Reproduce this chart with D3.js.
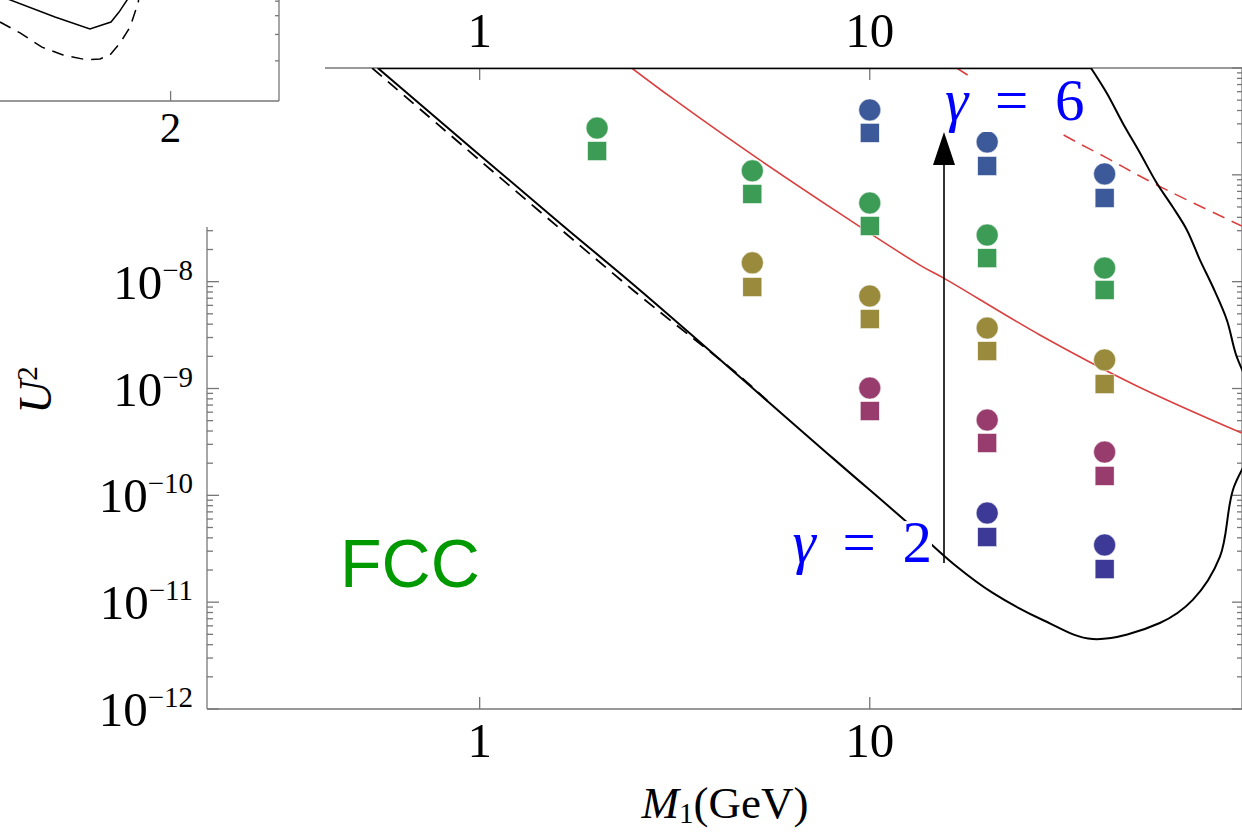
<!DOCTYPE html>
<html>
<head>
<meta charset="utf-8">
<title>FCC sensitivity: U2 vs M1</title>
<script src="https://cdn.jsdelivr.net/npm/d3@7"></script>
<style>
  body { margin: 0; background: #fff; }
  svg { display: block; }
</style>
</head>
<body>
<script>
// ---- data ----
// benchmark masses (GeV) and marker colours (one row per colour)
var masses = [2, 5, 10, 20, 40];
var pointColors = ["#3c5a99", "#3c9b55", "#9a8a3c", "#983c6e", "#3c3a96"];
var circleU2 = [
  [null, null, 4.05e-7, 2.03e-7, 1.02e-7],
  [2.74e-7, 1.09e-7, 5.45e-8, 2.73e-8, 1.34e-8],
  [null, 1.50e-8, 7.34e-9, 3.68e-9, 1.85e-9],
  [null, null, 1.01e-9, 5.07e-10, 2.54e-10],
  [null, null, null, 6.83e-11, 3.43e-11]
];
var squareU2 = [
  [null, null, 2.47e-7, 1.21e-7, 6.07e-8],
  [1.67e-7, 6.62e-8, 3.32e-8, 1.66e-8, 8.36e-9],
  [null, 8.91e-9, 4.47e-9, 2.24e-9, 1.10e-9],
  [null, null, 6.15e-10, 3.09e-10, 1.52e-10],
  [null, null, null, 4.07e-11, 2.04e-11]
];

// black sensitivity contour: lower branch, round the right edge, back up the upper branch
var contourSolid = [
  [0.548, 1e-6], [1.604, 3.54e-8], [2.572, 8.36e-9], [8.04, 2.23e-10],
  [12.52, 5.51e-11], [16.52, 2.23e-11], [20.67, 1.22e-11], [27.77, 6.81e-12],
  [37.31, 4.52e-12], [55.4, 6.38e-12], [67.3, 1.05e-11], [78.97, 2.65e-11],
  [85.3, 1.12e-10], [100, 4.55e-10], [86.6, 2.15e-9], [82.3, 4.38e-9],
  [75.8, 8.91e-9], [70.2, 1.60e-8], [65.0, 3.05e-8], [59.8, 5.00e-8],
  [54.4, 8.39e-8], [49.3, 1.60e-7], [44.5, 3.06e-7], [40.5, 5.83e-7], [36.9, 1e-6]
];
var contourDashed = [
  [0.530, 1e-6], [2.47, 8.36e-9], [4.6, 1.35e-9], [5.5, 7.5e-10]
];
var redSolid = [
  [2.453, 1e-6], [3.162, 5.02e-7], [5.224, 1.38e-7], [13.44, 1.43e-8],
  [15.48, 1.08e-8], [27.29, 3.17e-9], [47.8, 1.08e-9], [89.9, 3.83e-10]
];
var redDashed = [
  [16.71, 1e-6], [29.8, 2.63e-7], [40.5, 1.44e-7], [54.4, 8.04e-8], [89.9, 3.32e-8]
];
// gamma arrow: mass and U2 range
var arrowM = 15.5;
var arrowU2 = [2.32e-11, 2.52e-7];

var xTicks = [1, 10];
var yDecades = [-12, -11, -10, -9, -8, -7, -6];

// small inset fragment in the top-left corner
var insetSolid = [[1.15, 5.41], [1.424, 3.92], [1.598, 3.26], [1.703, 3.63], [1.743, 4.23], [1.783, 5.09], [1.798, 5.5]];
var insetDashed = [[1.15, 3.63], [1.25, 3.07], [1.359, 2.47], [1.464, 2.19], [1.583, 2.03], [1.648, 2.06],
                   [1.698, 2.19], [1.748, 2.63], [1.798, 3.36], [1.838, 4.86], [1.843, 5.33]];
var insetXTicks = [2];
var insetYTicks = [2, 3, 4, 5];

// ---- drawing ----
var W = 1242, H = 832;
var serif = "'Liberation Serif', 'Times New Roman', serif";
var svg = d3.select("body").append("svg").attr("width", W).attr("height", H);
svg.append("rect").attr("width", W).attr("height", H).attr("fill", "#fff");

var x = d3.scaleLog().domain([0.2, 90]).range([207, 1242]);
var y = d3.scaleLog().domain([1e-12, 1e-6]).range([709, 68]);
var x0 = x.range()[0], x1 = x.range()[1], y0 = y.range()[0], y1 = y.range()[1];

svg.append("clipPath").attr("id", "plot")
  .append("rect").attr("x", x0).attr("y", y1).attr("width", x1 - x0).attr("height", y0 - y1);

var axisColor = "#777";
var frame = svg.append("g").attr("stroke", axisColor).attr("stroke-width", 1.3);
frame.append("line").attr("x1", x0).attr("x2", x1).attr("y1", y0).attr("y2", y0);
frame.append("line").attr("x1", x0).attr("x2", x1).attr("y1", y1).attr("y2", y1);
frame.append("line").attr("x1", x0).attr("x2", x0).attr("y1", y0).attr("y2", y1);
frame.append("line").attr("x1", x1).attr("x2", x1).attr("y1", y0).attr("y2", y1);

// x ticks on bottom and top
xTicks.forEach(function (t) {
  frame.append("line").attr("x1", x(t)).attr("x2", x(t)).attr("y1", y0).attr("y2", y0 - 12);
  frame.append("line").attr("x1", x(t)).attr("x2", x(t)).attr("y1", y1).attr("y2", y1 + 12);
  svg.append("text").attr("x", x(t)).attr("y", y0 + 48).attr("text-anchor", "middle")
    .style("font-family", serif).style("font-size", "49px").text(t);
  svg.append("text").attr("x", x(t)).attr("y", y1 - 21).attr("text-anchor", "middle")
    .style("font-family", serif).style("font-size", "49px").text(t);
});

// y ticks, major and minor, on left and right
var minorY = [];
yDecades.slice(0, -1).forEach(function (e) {
  for (var k = 2; k < 10; k++) minorY.push(k * Math.pow(10, e));
});
yDecades.forEach(function (e) {
  var v = Math.pow(10, e);
  frame.append("line").attr("x1", x0).attr("x2", x0 + 12).attr("y1", y(v)).attr("y2", y(v));
  frame.append("line").attr("x1", x1).attr("x2", x1 - 10).attr("y1", y(v)).attr("y2", y(v));
  var lab = svg.append("text").attr("x", x0 - 14).attr("y", y(v) + 17).attr("text-anchor", "end")
    .style("font-family", serif).style("font-size", "49px");
  lab.append("tspan").text("10");
  lab.append("tspan").attr("dy", -19).style("font-size", "29px").text("\u2212" + Math.abs(e));
});
minorY.forEach(function (v) {
  frame.append("line").attr("x1", x0).attr("x2", x0 + 6).attr("y1", y(v)).attr("y2", y(v));
  frame.append("line").attr("x1", x1).attr("x2", x1 - 5).attr("y1", y(v)).attr("y2", y(v));
});

// axis titles
var yt = svg.append("text").attr("transform", "translate(51,390) rotate(-90)")
  .attr("text-anchor", "middle").style("font-family", serif).style("font-size", "46px");
yt.append("tspan").style("font-style", "italic").text("U");
yt.append("tspan").attr("dy", -14).style("font-size", "29px").text("2");

var xt = svg.append("text").attr("x", 725).attr("y", 818).attr("text-anchor", "middle")
  .style("font-family", serif).style("font-size", "45px");
xt.append("tspan").style("font-style", "italic").text("M");
xt.append("tspan").attr("dy", 5).style("font-size", "29px").text("1");
xt.append("tspan").attr("dy", -5).text("(GeV)");

// curves
var line = d3.line().x(function (d) { return x(d[0]); }).y(function (d) { return y(d[1]); })
  .curve(d3.curveCatmullRom.alpha(0.5));
var curves = svg.append("g").attr("clip-path", "url(#plot)").attr("fill", "none");

curves.append("path").attr("d", line(redSolid)).attr("stroke", "#d9403f").attr("stroke-width", 1.6);
curves.append("path").attr("d", line(redDashed)).attr("stroke", "#d9403f").attr("stroke-width", 1.6)
  .attr("stroke-dasharray", "13,8");
curves.append("path").attr("d", line(contourDashed)).attr("stroke", "#000").attr("stroke-width", 1.8)
  .attr("stroke-dasharray", "13,8");
curves.append("path").attr("d", line(contourSolid)).attr("stroke", "#000").attr("stroke-width", 2);
// contour closes along the top edge of the frame
var cEnds = [contourSolid[0], contourSolid[contourSolid.length - 1]];
curves.append("path").attr("d", d3.line().x(function (d) { return x(d[0]); }).y(function (d) { return y(d[1]); })(cEnds))
  .attr("stroke", "#000").attr("stroke-width", 2.4);

// benchmark markers
var marks = svg.append("g");
pointColors.forEach(function (c, i) {
  masses.forEach(function (m, j) {
    if (circleU2[i][j] != null) {
      marks.append("circle").attr("cx", x(m)).attr("cy", y(circleU2[i][j])).attr("r", 11)
        .attr("fill", c).attr("stroke", "#fff").attr("stroke-width", 0.5);
    }
    if (squareU2[i][j] != null) {
      marks.append("rect").attr("x", x(m) - 9.5).attr("y", y(squareU2[i][j]) - 9.5)
        .attr("width", 19).attr("height", 19)
        .attr("fill", c).attr("stroke", "#fff").attr("stroke-width", 0.5);
    }
  });
});

// gamma arrow
var ax = x(arrowM), aBot = y(arrowU2[0]), aTip = y(arrowU2[1]);
svg.append("line").attr("x1", ax).attr("x2", ax).attr("y1", aBot).attr("y2", aTip + 30)
  .attr("stroke", "#000").attr("stroke-width", 1.6);
svg.append("path").attr("d", "M" + ax + "," + aTip + "L" + (ax - 11) + "," + (aTip + 33) + "L" + (ax + 11) + "," + (aTip + 33) + "Z")
  .attr("fill", "#000");

function gammaLabel(val, gx, gy, anchor) {
  var g = svg.append("g");
  var bg = g.append("rect").attr("fill", "#fff");
  var t = g.append("text").attr("x", gx).attr("y", gy).attr("text-anchor", anchor)
    .style("font-family", serif).style("font-size", "59px").style("word-spacing", "12px")
    .attr("fill", "#0000ff");
  t.append("tspan").style("font-style", "italic").text("\u03b3");
  t.append("tspan").text(" = " + val);
  var bb = t.node().getBBox();
  bg.attr("x", bb.x).attr("width", bb.width).attr("y", gy - 41).attr("height", 53);
}
gammaLabel(2, ax - 12, aBot - 1, "end");
gammaLabel(6, ax + 1, aTip - 12, "start");

svg.append("text").attr("x", 340).attr("y", 587)
  .style("font-family", "'Liberation Sans', Arial, sans-serif").style("font-size", "68px")
  .attr("fill", "#009900").text("FCC");

// ---- inset in the corner (covers that part of the main frame) ----
svg.append("rect").attr("x", 0).attr("y", 0).attr("width", 325).attr("height", 227).attr("fill", "#fff");
var ix = d3.scaleLinear().domain([1.15, 2.54]).range([0, 279]);
var iy = d3.scaleLog().domain([1.08, 5.09]).range([101, 0]);
var inset = svg.append("g");
inset.append("clipPath").attr("id", "insetClip")
  .append("rect").attr("x", 0).attr("y", 0).attr("width", 279).attr("height", 101);
var iline = d3.line().x(function (d) { return ix(d[0]); }).y(function (d) { return iy(d[1]); })
  .curve(d3.curveLinear);
var ic = inset.append("g").attr("clip-path", "url(#insetClip)").attr("fill", "none").attr("stroke", "#000");
ic.append("path").attr("d", iline(insetSolid)).attr("stroke-width", 1.5);
ic.append("path").attr("d", iline(insetDashed)).attr("stroke-width", 1.5).attr("stroke-dasharray", "12,8");

var iframe = inset.append("g").attr("stroke", axisColor).attr("stroke-width", 1.3);
iframe.append("line").attr("x1", 0).attr("x2", 279).attr("y1", 101).attr("y2", 101);
iframe.append("line").attr("x1", 279).attr("x2", 279).attr("y1", 0).attr("y2", 101);
insetXTicks.forEach(function (t) {
  iframe.append("line").attr("x1", ix(t)).attr("x2", ix(t)).attr("y1", 101).attr("y2", 91);
  inset.append("text").attr("x", ix(t)).attr("y", 142).attr("text-anchor", "middle")
    .style("font-family", serif).style("font-size", "43px").text(t);
});
insetYTicks.forEach(function (t) {
  iframe.append("line").attr("x1", 279).attr("x2", 275).attr("y1", iy(t)).attr("y2", iy(t));
});
</script>
</body>
</html>
